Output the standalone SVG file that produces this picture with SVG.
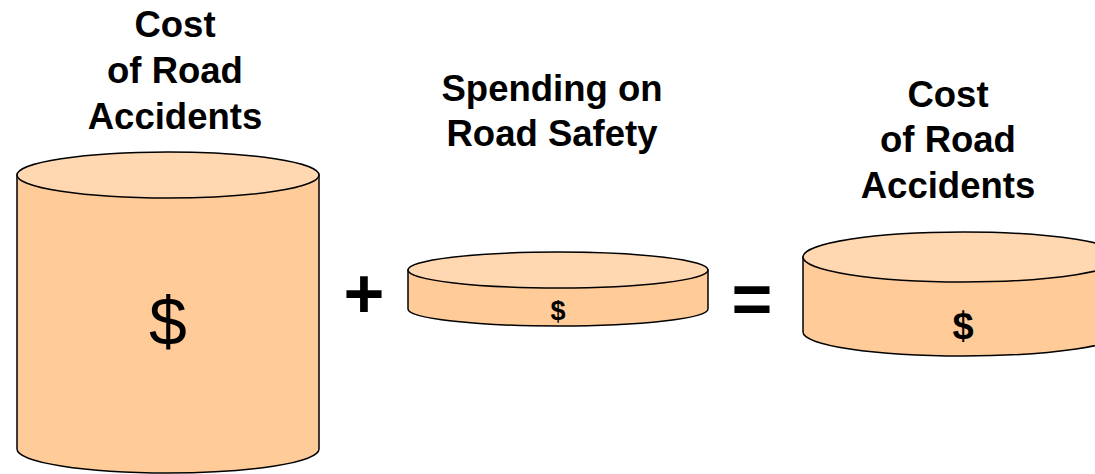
<svg xmlns="http://www.w3.org/2000/svg" width="1095" height="474" viewBox="0 0 1095 474">
<style>
.side{fill:#FFCB98;stroke:#000;stroke-width:1.5}
.top{fill:#FFD7B0;stroke:#000;stroke-width:1.5}
.lbl{font-family:"Liberation Sans",Arial,sans-serif;font-weight:bold;font-size:36.5px;text-anchor:middle;fill:#000}
.sym{font-family:"Liberation Sans",Arial,sans-serif;text-anchor:middle;fill:#000}
</style>
<rect width="1095" height="474" fill="#fff"/>
<g id="cyl1">
<path class="side" d="M17,175 L17,449 A151,24 0 0 0 319,449 L319,175 Z"/>
<ellipse class="top" cx="168" cy="175" rx="151" ry="23"/>
<text class="sym" x="168" y="345" font-size="68">$</text>
</g>
<g id="label1">
<text class="lbl" x="175" y="37">Cost</text>
<text class="lbl" x="175" y="83">of Road</text>
<text class="lbl" x="175" y="129">Accidents</text>
</g>
<g id="plus"><text class="sym" x="364" y="318" font-size="70" font-weight="bold">+</text></g>
<g id="cyl2">
<path class="side" d="M408,270 L408,309 A150,17 0 0 0 708,309 L708,270 Z"/>
<ellipse class="top" cx="558" cy="270" rx="150" ry="18"/>
<text class="sym" x="558" y="320" font-size="27" font-weight="bold">$</text>
</g>
<g id="label2">
<text class="lbl" x="552" y="101">Spending on</text>
<text class="lbl" x="552" y="146">Road Safety</text>
</g>
<g id="equals"><text class="sym" x="752" y="323" font-size="70" font-weight="bold">=</text></g>
<g id="cyl3">
<path class="side" d="M803,257 L803,332 A160,24 0 0 0 1123,332 L1123,257 Z"/>
<ellipse class="top" cx="963" cy="257" rx="160" ry="25"/>
<text class="sym" x="963" y="339" font-size="38" font-weight="bold">$</text>
</g>
<g id="label3">
<text class="lbl" x="948" y="107">Cost</text>
<text class="lbl" x="948" y="152">of Road</text>
<text class="lbl" x="948" y="198">Accidents</text>
</g>
</svg>
